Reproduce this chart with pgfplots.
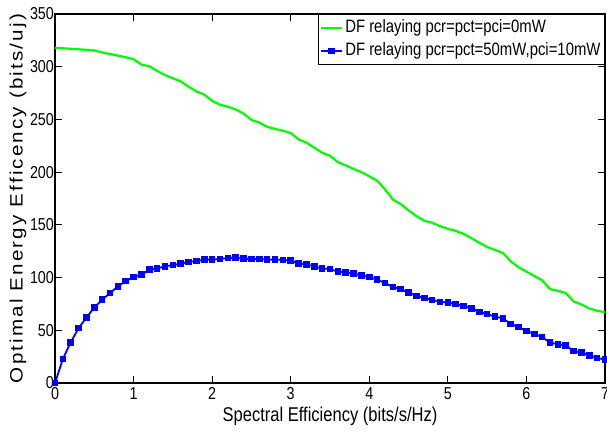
\documentclass[border=0pt]{standalone}
\usepackage{fontspec}
\setmainfont[FakeStretch=0.83]{Liberation Sans}
\newfontfamily\ylabfont[FakeStretch=1.15, LetterSpace=12]{Liberation Sans}
\usepackage{pgfplots}
\pgfplotsset{compat=1.18}

\pgfplotstableread{
x y
0 318
0.1 317.5
0.2 317
0.3 316.5
0.4 316
0.5 315.5
0.6 313.5
0.7 312
0.8 310.5
0.9 309
1.0 307
1.1 302
1.2 300.5
1.3 296
1.4 292
1.5 289
1.6 286
1.7 281
1.8 276.5
1.9 273.5
2.0 267.5
2.1 264
2.2 262
2.3 259.4
2.4 255.5
2.5 249.5
2.6 247
2.7 243
2.8 241
2.9 239.3
3.0 237
3.1 231
3.2 228
3.3 223
3.4 218.4
3.5 215.5
3.6 209.5
3.7 206.4
3.8 203
3.9 200
4.0 196
4.1 191.8
4.2 183.6
4.3 174
4.4 169.6
4.5 163.6
4.6 158.2
4.7 153.8
4.8 152
4.9 148.7
5.0 146.2
5.1 144.3
5.2 141.4
5.3 137.3
5.4 132.9
5.5 129
5.6 126.2
5.7 123.3
5.8 115.4
5.9 109.7
6.0 105.6
6.1 101.5
6.2 97.3
6.3 89
6.4 87.5
6.5 85.3
6.6 77.3
6.7 74.5
6.8 70.7
6.9 68.5
7.0 67.2
}\greendata

\pgfplotstableread{
x y
0 0
0.1 22.8
0.2 38.7
0.3 52
0.4 62
0.5 71.6
0.6 79
0.7 85.3
0.8 91.6
0.9 96.7
1.0 100.5
1.1 103
1.2 107.5
1.3 108.7
1.4 110.6
1.5 111.9
1.6 113.2
1.7 114.8
1.8 115.7
1.9 117
2.0 117
2.1 117.6
2.2 118.6
2.3 118.8
2.4 117.9
2.5 117.6
2.6 117.6
2.7 117
2.8 117
2.9 116.7
3.0 116
3.1 113.5
3.2 112.5
3.3 110.6
3.4 108.7
3.5 108.1
3.6 105.6
3.7 104.9
3.8 103.7
3.9 102
4.0 100.5
4.1 98
4.2 94.8
4.3 91
4.4 89.1
4.5 85.6
4.6 82.7
4.7 80.5
4.8 78.9
4.9 77
5.0 76.4
5.1 74.8
5.2 73.2
5.3 70.7
5.4 67.5
5.5 65.3
5.6 63.1
5.7 61.2
5.8 56.1
5.9 53
6.0 49.2
6.1 46.6
6.2 43.5
6.3 38.3
6.4 36.8
6.5 35.5
6.6 30.4
6.7 28.8
6.8 26.3
6.9 23.8
7.0 22.2
}\bluedata

\begin{document}
\begin{tikzpicture}
\begin{axis}[
    name=main,
    at={(0,0)}, anchor=south west,
    scale only axis,
    width=550bp, height=369bp,
    xmin=0, xmax=7, ymin=0, ymax=350,
    xtick={0,1,2,3,4,5,6,7},
    ytick={0,50,100,150,200,250,300,350},
    tick align=inside,
    tick pos=both,
    major tick length=7bp,
    axis line style={line width=1.2bp},
    every tick/.style={line width=1bp, black},
    /pgf/number format/assume math mode=true,
    tick label style={font=\fontsize{17.3}{17.3}\selectfont},
    xticklabel style={yshift=-1.3bp},
    yticklabel style={xshift=2.4bp},
    xlabel={Spectral Efficiency (bits/s/Hz)},
    ylabel={Optimal Energy Efficency (bits/uj)},
    every axis x label/.style={at={([yshift=-33bp]axis description cs:0.5,0)}, anchor=center, font=\fontsize{20}{20}\selectfont},
    every axis y label/.style={at={([xshift=-37bp]axis description cs:0,0.5)}, rotate=90, anchor=center, font=\fontsize{18}{18}\ylabfont},
    legend cell align=left,
    legend style={at={(1,1)}, anchor=north east, draw=black, line width=1bp,
        inner sep=2bp, font=\fontsize{18}{18}\selectfont,
        nodes={inner sep=2bp, text height=14bp, text depth=5bp}},
    legend image code/.code={%
        \draw[mark repeat=2,mark phase=2,#1] plot coordinates {(0bp,0bp) (10.5bp,0bp) (21bp,0bp)};},
]
\addplot[draw={rgb,1:red,0;green,1;blue,0}, line width=2.2bp] table[x=x,y=y] {\greendata};
\addlegendentry{DF relaying pcr=pct=pci=0mW}
\addplot[draw=blue, line width=1.8bp, mark=square*, mark size=2.8bp,
    mark options={solid, draw=blue, fill=blue, line width=1bp}] table[x=x,y=y] {\bluedata};
\addlegendentry{DF relaying pcr=pct=50mW,pci=10mW}
\end{axis}
\pgfresetboundingbox
\path[use as bounding box] (-55bp,-50bp) rectangle (552bp,383bp);
\end{tikzpicture}
\end{document}
